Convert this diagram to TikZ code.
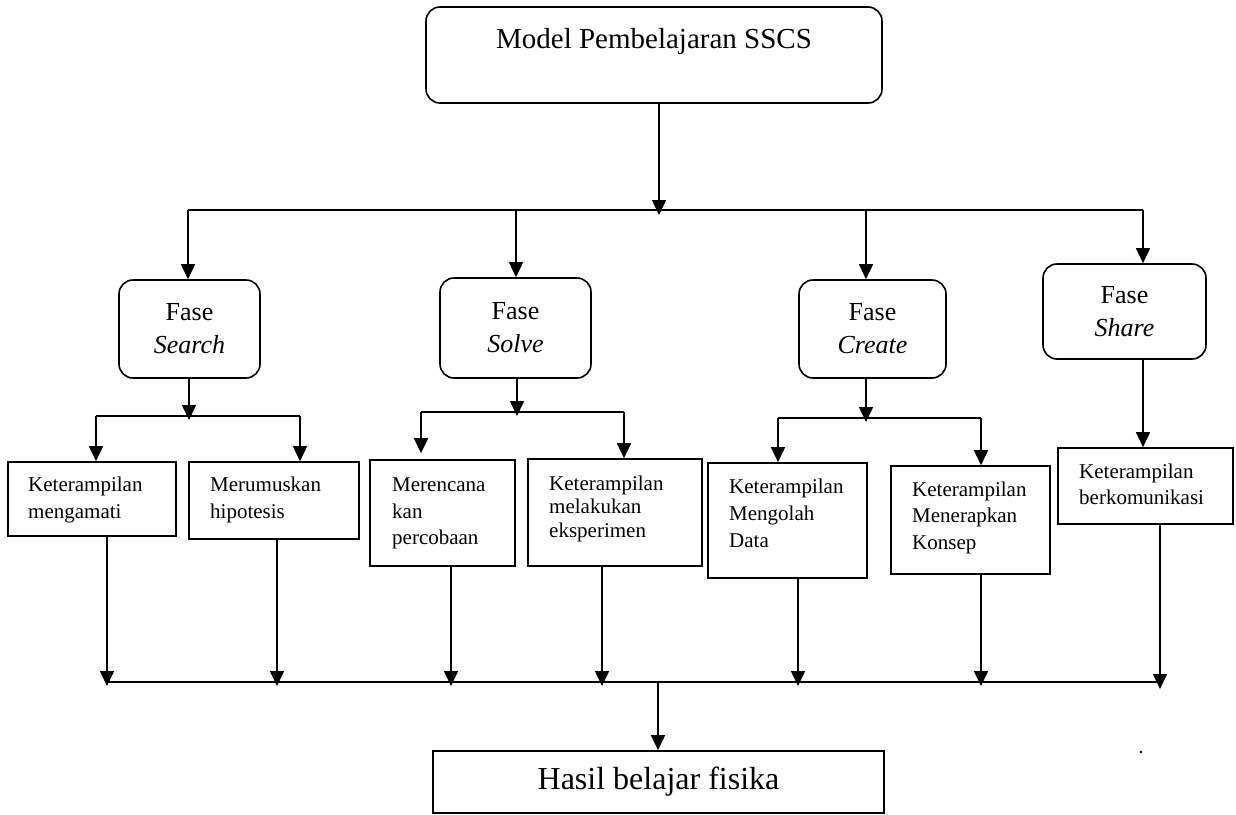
\documentclass[tikz,border=0pt]{standalone}
\usepackage{fontspec}
\setmainfont{Liberation Serif}
\usetikzlibrary{arrows.meta,calc}
\begin{document}
\begin{tikzpicture}[x=1pt,y=-1pt,
  ln/.style={line width=1.6pt},
  arr/.style={ln,-{Triangle[length=15pt,width=14pt]}},
  rbox/.style={draw,ln,rounded corners=14pt,inner sep=0pt},
  sbox/.style={draw,ln,inner sep=0pt},
  phase/.style={rbox,align=center,font=\fontsize{26}{33}\selectfont},
  txt/.style={anchor=north west,inner sep=0pt,align=left}]
\useasboundingbox (0,0) rectangle (1236,814);

% top box
\node[rbox,minimum width=456pt,minimum height=96pt] (model) at (654,55) {};
\node[inner sep=0pt,anchor=base,font=\fontsize{29}{35}\selectfont] (modeltxt) at (654,48) {Model Pembelajaran SSCS};

% phase boxes
\node[phase,minimum width=141pt,minimum height=98pt] (search) at (189.5,329) {Fase\\\textit{Search}};
\node[phase,minimum width=151pt,minimum height=100pt] (solve) at (515.5,328) {Fase\\\textit{Solve}};
\node[phase,minimum width=147pt,minimum height=98pt] (create) at (872.5,329) {Fase\\\textit{Create}};
\node[phase,minimum width=163pt,minimum height=95pt] (share) at (1124.5,311.5) {Fase\\\textit{Share}};

% skill boxes
\node[sbox,minimum width=168pt,minimum height=74pt] (k1) at (92,499) {};
\node[sbox,minimum width=170pt,minimum height=77pt] (k2) at (274,500.5) {};
\node[sbox,minimum width=145pt,minimum height=106pt] (k3) at (442.5,513) {};
\node[sbox,minimum width=174pt,minimum height=107pt] (k4) at (615,512.5) {};
\node[sbox,minimum width=159pt,minimum height=115pt] (k5) at (787.5,520.5) {};
\node[sbox,minimum width=159pt,minimum height=108pt] (k6) at (970.5,520) {};
\node[sbox,minimum width=175pt,minimum height=76pt] (k7) at (1145.5,486) {};

\node[txt,font=\fontsize{21}{27}\selectfont] (k1t) at (28,476.7) {Keterampilan\\mengamati};
\node[txt,font=\fontsize{21}{27}\selectfont] (k2t) at (210,476.7) {Merumuskan\\hipotesis};
\node[txt,font=\fontsize{21}{26.5}\selectfont] (k3t) at (392,478) {Merencana\\kan\\percobaan};
\node[txt,font=\fontsize{21}{23.5}\selectfont] (k4t) at (549,475.7) {Keterampilan\\melakukan\\eksperimen};
\node[txt,font=\fontsize{21}{27}\selectfont] (k5t) at (729,478.7) {Keterampilan\\Mengolah\\Data};
\node[txt,font=\fontsize{21}{26.5}\selectfont] (k6t) at (912,481.7) {Keterampilan\\Menerapkan\\Konsep};
\node[txt,font=\fontsize{21}{26}\selectfont] (k7t) at (1079,463.7) {Keterampilan\\berkomunikasi};

% result box
\node[sbox,minimum width=451pt,minimum height=62pt,font=\fontsize{32}{38}\selectfont] (hasil) at (658.5,782) {Hasil belajar fisika};

% top distribution
\coordinate (tm) at (659,210);
\coordinate (tmtip) at (659,215);
\coordinate (t0) at (188,210);
\coordinate (t1) at (516,210);
\coordinate (t2) at (866,210);
\coordinate (t3) at (1143,210);
\draw[arr] (tm |- model.south) -- (tmtip);
\draw[ln] (t0) -- (t3);
\draw[arr] (t0) -- (t0 |- search.north);
\draw[arr] (t1) -- (t1 |- solve.north);
\draw[arr] (t2) -- (t2 |- create.north);
\draw[arr] (t3) -- (t3 |- share.north);

% search split
\coordinate (s0) at (189,416);
\coordinate (s0tip) at (189,420);
\coordinate (sl) at (96,416);
\coordinate (sr) at (300,416);
\draw[arr] (s0 |- search.south) -- (s0tip);
\draw[ln] (sl) -- (sr);
\draw[arr] (sl) -- (sl |- k1.north);
\draw[arr] (sr) -- (sr |- k2.north);

% solve split
\coordinate (v0) at (517,412);
\coordinate (v0tip) at (517,416);
\coordinate (vl) at (421,412);
\coordinate (vr) at (624,412);
\draw[arr] (v0 |- solve.south) -- (v0tip);
\draw[ln] (vl) -- (vr);
\draw[arr] (vl) -- ($(vl |- k3.north)+(0,-6)$);
\draw[arr] (vr) -- (vr |- k4.north);

% create split
\coordinate (c0) at (866,418);
\coordinate (c0tip) at (866,422);
\coordinate (cl) at (778,418);
\coordinate (cr) at (981,418);
\draw[arr] (c0 |- create.south) -- (c0tip);
\draw[ln] (cl) -- (cr);
\draw[arr] (cl) -- (cl |- k5.north);
\draw[arr] (cr) -- (cr |- k6.north);

% share
\draw[arr] (t3 |- share.south) -- (t3 |- k7.north);

% bottom collection
\coordinate (bl) at (0,682);
\coordinate (b1) at (107,686);
\coordinate (b2) at (277,686);
\coordinate (b3) at (451,686);
\coordinate (b4) at (602,686);
\coordinate (b5) at (798,686);
\coordinate (b6) at (981,686);
\coordinate (b7) at (1160,689);
\draw[arr] (b1 |- k1.south) -- (b1);
\draw[arr] (b2 |- k2.south) -- (b2);
\draw[arr] (b3 |- k3.south) -- (b3);
\draw[arr] (b4 |- k4.south) -- (b4);
\draw[arr] (b5 |- k5.south) -- (b5);
\draw[arr] (b6 |- k6.south) -- (b6);
\draw[arr] (b7 |- k7.south) -- (b7);
\draw[ln] (b1 |- bl) -- (b7 |- bl);
\coordinate (hm) at (658,682);
\draw[arr] (hm) -- (hm |- hasil.north);

\fill (1141,752) circle (1.3pt);
\end{tikzpicture}
\end{document}
